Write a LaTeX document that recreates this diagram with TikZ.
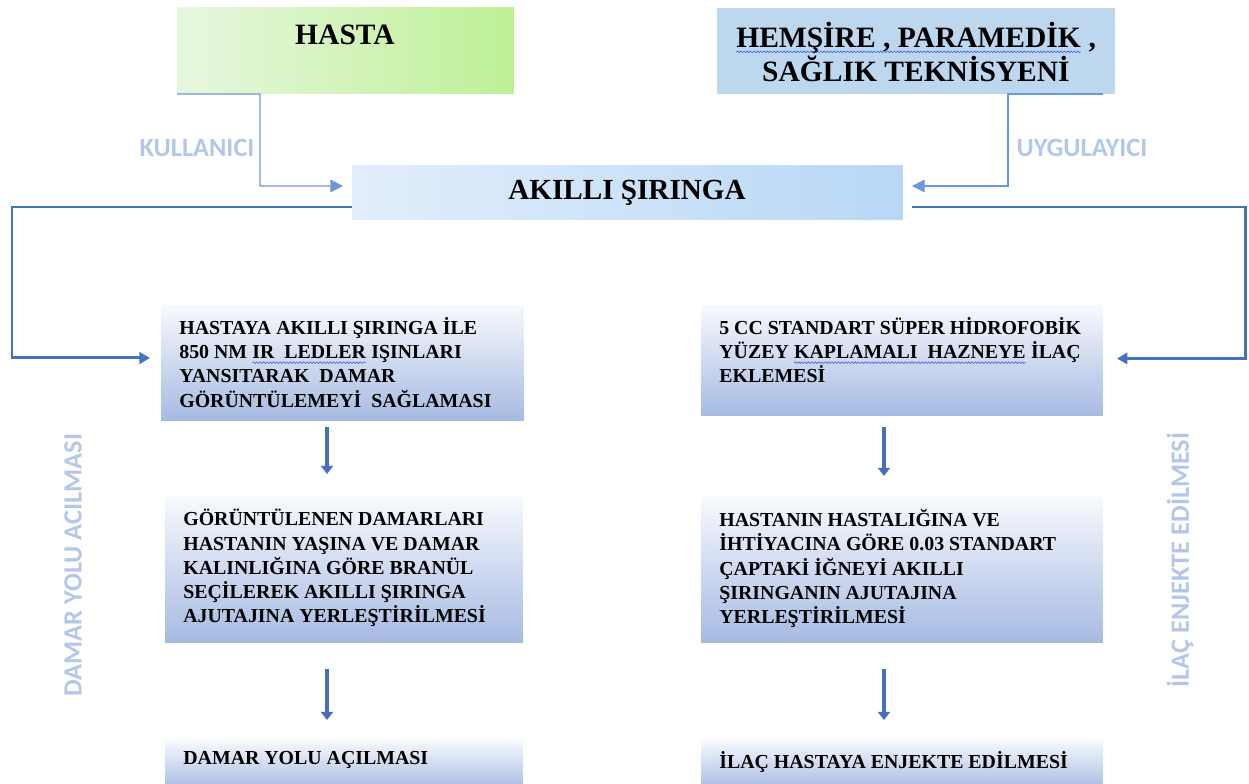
\documentclass[tikz,border=0pt]{standalone}
\usepackage{fontspec}
\setmainfont{Liberation Serif}
\newfontfamily\sidefont{Carlito}
\usetikzlibrary{arrows.meta,decorations.pathmorphing,calc}

\definecolor{linec}{RGB}{68,114,196}
\definecolor{thinc}{RGB}{110,150,222}
\definecolor{sidec}{RGB}{178,199,234}
\definecolor{boxbot}{RGB}{166,186,226}
\definecolor{boxtop}{RGB}{247,249,253}
\definecolor{hemc}{RGB}{189,215,238}
\definecolor{greenl}{RGB}{232,247,224}
\definecolor{greenr}{RGB}{190,240,150}
\definecolor{akl}{RGB}{226,238,251}
\definecolor{akr}{RGB}{184,215,246}
\definecolor{barc}{RGB}{72,110,190}
\definecolor{wavec}{RGB}{70,90,230}

\tikzset{
  vbox/.style={draw=none, top color=boxtop, bottom color=boxbot, inner sep=0pt, outer sep=0pt, anchor=north west},
  btxt/.style={font=\fontsize{11.3pt}{13.8pt}\selectfont\bfseries, align=left, anchor=north west, inner sep=0pt},
  ttl/.style={font=\fontsize{16.8pt}{17pt}\selectfont\bfseries, align=center, inner sep=0pt},
  sidelbl/.style={font=\sidefont\fontsize{15pt}{17pt}\selectfont\bfseries, text=sidec, inner sep=0pt},
  conn/.style={draw=linec, line width=1.7pt, -{Triangle[width=6.5pt,length=6pt]}},
  thinconn/.style={draw=thinc, line width=0.7pt, -{Triangle[width=7.2pt,length=7.2pt]}},
  barrow/.style={draw=barc, line width=2.8pt, -{Triangle[width=6.8pt,length=4.6pt]}},
  wavyline/.style={draw=wavec, line width=0.35pt, decorate, decoration={snake, amplitude=0.45pt, segment length=1.9pt}}
}
\newcommand\wavy[1]{\tikz[baseline=(w.base)]{\node[inner sep=0pt,outer sep=0pt,anchor=base](w){#1};\draw[wavyline] ([yshift=-2.3pt]w.base west) -- ([yshift=-2.3pt]w.base east);}}

\begin{document}
\begin{tikzpicture}[x=0.02cm,y=-0.02cm]
\useasboundingbox (0,0) rectangle (1249,784);

% top boxes
\node[draw=none, left color=greenl, right color=greenr, minimum width=6.74cm, minimum height=1.72cm, anchor=north west, inner sep=0pt, outer sep=0pt] (hasta) at (177,8) {};
\node[ttl] (hastat) at (345,35) {HASTA};
\node[fill=hemc, minimum width=7.96cm, minimum height=1.72cm, anchor=north west, inner sep=0pt, outer sep=0pt] (hem) at (717,8) {};
\node[ttl] (hemt) at (916,52) {\wavy{HEMŞİRE , PARAMEDİK} ,\\SAĞLIK TEKNİSYENİ};

% central box
\node[draw=none, left color=akl, right color=akr, minimum width=11.02cm, minimum height=1.08cm, anchor=north west, inner sep=0pt, outer sep=0pt] (ak) at (352,166) {};
\node[ttl, font=\fontsize{16.6pt}{17pt}\selectfont\bfseries] (akt) at (627,193) {AKILLI ŞIRINGA};

% step boxes
\node[vbox, minimum width=7.26cm, minimum height=2.32cm] (b1) at (161,305) {};
\node[vbox, minimum width=8.04cm, minimum height=2.22cm] (r1) at (701,305) {};
\node[vbox, minimum width=7.16cm, minimum height=2.92cm] (b2) at (165,497) {};
\node[vbox, minimum width=8.04cm, minimum height=2.92cm] (r2) at (701,497) {};
\node[vbox, minimum width=7.16cm, minimum height=1.0cm] (b3) at (165,740) {};
\node[vbox, minimum width=8.04cm, minimum height=1.0cm] (r3) at (701,740) {};

\node[btxt] (b1t) at (179,317) {HASTAYA AKILLI ŞIRINGA İLE\\850 NM \wavy{IR\ \ LEDLER} IŞINLARI\\YANSITARAK\ \ DAMAR\\GÖRÜNTÜLEMEYİ\ \ SAĞLAMASI};
\node[btxt] (r1t) at (719,317) {5 CC STANDART SÜPER HİDROFOBİK\\YÜZEY \wavy{KAPLAMALI\ \ HAZNEYE} İLAÇ\\EKLEMESİ};
\node[btxt] (b2t) at (183,509) {GÖRÜNTÜLENEN DAMARLARI\\HASTANIN YAŞINA VE DAMAR\\KALINLIĞINA GÖRE BRANÜL\\SEÇİLEREK AKILLI ŞIRINGA\\AJUTAJINA YERLEŞTİRİLMESİ};
\node[btxt] (r2t) at (719,509) {HASTANIN HASTALIĞINA VE\\İHTİYACINA GÖRE 0.03 STANDART\\ÇAPTAKİ İĞNEYİ AKILLI\\ŞIRINGANIN AJUTAJINA\\YERLEŞTİRİLMESİ};
\node[btxt] (b3t) at (183,751) {DAMAR YOLU AÇILMASI};
\node[btxt] (r3t) at (719,751) {İLAÇ HASTAYA ENJEKTE EDİLMESİ};

% side labels
\node[sidelbl] (kul) at (197,148) {KULLANICI};
\node[sidelbl] (uyg) at (1082,148) {UYGULAYICI};
\node[sidelbl, rotate=90] (dyl) at (73,565) {DAMAR YOLU ACILMASI};
\node[sidelbl, rotate=90] (ile) at (1180,560) {İLAÇ ENJEKTE EDİLMESİ};

% thin connectors
\coordinate (kbend) at (260,94);
\coordinate (kend) at (343,186);
\draw[thinconn] (hasta.south west) -- (kbend) |- (kend);
\coordinate (ustart) at (1103,94);
\coordinate (ubend) at (1008,94);
\coordinate (uend) at (912,186);
\draw[thinconn] (ustart) -- (ubend) |- (uend);

% thick connectors
\coordinate (lstart) at (352,207);
\coordinate (lbend) at (12,207);
\draw[conn, shorten >=0.22cm] (lstart) -- (lbend) |- ($(b1.west)+(0,-5)$);
\coordinate (rstart) at (912,207);
\coordinate (rbend) at (1245,207);
\draw[conn, shorten >=0.28cm] (rstart) -- (rbend) |- ($(r1.east)+(0,-2)$);

% block arrows
\coordinate (a1s) at (327,427); \coordinate (a1e) at (327,474);
\coordinate (a2s) at (884,427); \coordinate (a2e) at (884,476);
\coordinate (a3s) at (327,669); \coordinate (a3e) at (327,720);
\coordinate (a4s) at (884,669); \coordinate (a4e) at (884,720);
\draw[barrow] (a1s) -- (a1e);
\draw[barrow] (a2s) -- (a2e);
\draw[barrow] (a3s) -- (a3e);
\draw[barrow] (a4s) -- (a4e);
\end{tikzpicture}
\end{document}
